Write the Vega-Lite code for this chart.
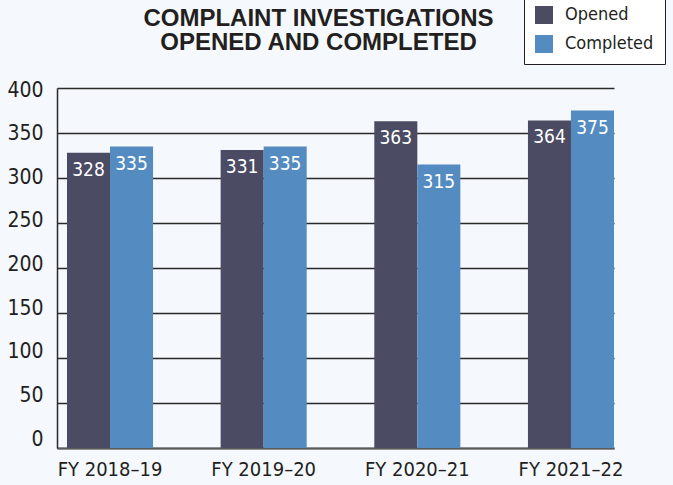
{
  "$schema": "https://vega.github.io/schema/vega-lite/v6.json",
  "width": 557,
  "height": 360,
  "autosize": {"type": "none"},
  "padding": {"left": 57, "top": 88, "right": 59, "bottom": 37},
  "background": "#f5f8fc",
  "title": {
    "text": ["COMPLAINT INVESTIGATIONS", "OPENED AND COMPLETED"],
    "anchor": "middle",
    "frame": "group",
    "dx": -17,
    "offset": -60,
    "baseline": "top",
    "font": "Liberation Sans",
    "fontSize": 24,
    "fontWeight": "bold",
    "color": "#231f20",
    "lineHeight": 24
  },
  "data": {
    "values": [
      {"year": "FY 2018–19", "type": "Opened", "count": 328},
      {"year": "FY 2018–19", "type": "Completed", "count": 335},
      {"year": "FY 2019–20", "type": "Opened", "count": 331},
      {"year": "FY 2019–20", "type": "Completed", "count": 335},
      {"year": "FY 2020–21", "type": "Opened", "count": 363},
      {"year": "FY 2020–21", "type": "Completed", "count": 315},
      {"year": "FY 2021–22", "type": "Opened", "count": 364},
      {"year": "FY 2021–22", "type": "Completed", "count": 375}
    ]
  },
  "encoding": {
    "x": {
      "field": "year",
      "type": "nominal",
      "sort": null,
      "scale": {"paddingInner": 0.44, "paddingOuter": 0.0325, "align": 1},
      "axis": {
        "title": null,
        "labelAngle": 0,
        "ticks": false,
        "grid": false,
        "domainColor": "#5a5a5a",
        "domainWidth": 2,
        "labelFont": "'DejaVu Sans Condensed', 'Liberation Sans Narrow', Roboto, sans-serif",
        "labelFontSize": 20,
        "labelColor": "#231f20",
        "labelPadding": 11,
        "labelBaseline": "top"
      }
    },
    "xOffset": {
      "field": "type",
      "type": "nominal",
      "sort": ["Opened", "Completed"],
      "scale": {"paddingInner": 0, "paddingOuter": 0}
    },
    "y": {
      "field": "count",
      "type": "quantitative",
      "scale": {"domain": [0, 400], "nice": false},
      "axis": {
        "title": null,
        "values": [0, 50, 100, 150, 200, 250, 300, 350, 400],
        "ticks": false,
        "grid": true,
        "gridColor": "#2a2a2a",
        "gridWidth": 1.5,
        "domainColor": "#2a2a2a",
        "domainWidth": 1.5,
        "labelFont": "'DejaVu Sans Condensed', 'Liberation Sans Narrow', Roboto, sans-serif",
        "labelFontSize": 21,
        "labelColor": "#231f20",
        "labelPadding": 14,
        "labelBaseline": "middle",
        "labelOffset": {"expr": "-9 + datum.value * 0.0275"}
      }
    }
  },
  "layer": [
    {
      "mark": {"type": "bar"},
      "encoding": {
        "color": {
          "field": "type",
          "type": "nominal",
          "scale": {"domain": ["Opened", "Completed"], "range": ["#4b4b63", "#548bc1"]},
          "legend": {
            "title": null,
            "orient": "none",
            "legendX": 467,
            "legendY": -93,
            "direction": "vertical",
            "symbolType": "square",
            "symbolSize": 324,
            "symbolStrokeWidth": 0,
            "symbolOpacity": 1,
            "labelFont": "'DejaVu Sans Condensed', 'Liberation Sans Narrow', Roboto, sans-serif",
            "labelFontSize": 18,
            "labelColor": "#231f20",
            "labelOffset": 12,
            "rowPadding": 11,
            "padding": 11,
            "strokeColor": "#231f20",
            "fillColor": "#ffffff"
          }
        }
      }
    },
    {
      "mark": {
        "type": "text",
        "color": "#ffffff",
        "font": "'DejaVu Sans Condensed', 'Liberation Sans Narrow', Roboto, sans-serif",
        "fontSize": 19,
        "baseline": "alphabetic",
        "dy": 23
      },
      "encoding": {
        "text": {"field": "count", "type": "quantitative"}
      }
    }
  ],
  "config": {
    "view": {"stroke": null}
  }
}
